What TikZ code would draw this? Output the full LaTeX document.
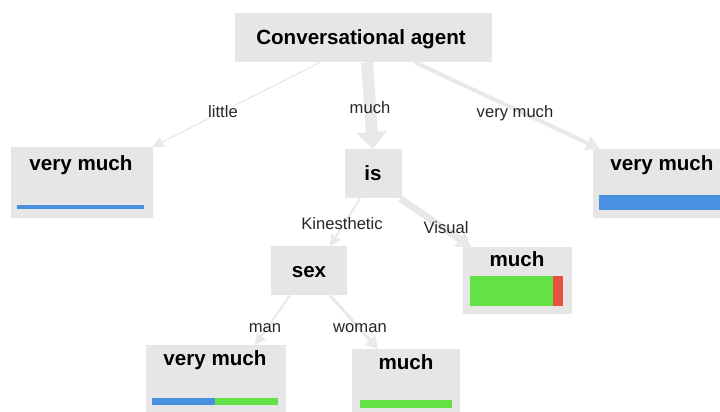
\documentclass[tikz,border=0pt]{standalone}
\usepackage{fontspec}
\setmainfont{Liberation Sans}
\usetikzlibrary{arrows.meta,calc}
\definecolor{boxgray}{RGB}{230,230,230}
\definecolor{edgegray}{RGB}{233,233,233}
\definecolor{barblue}{RGB}{74,144,226}
\definecolor{bargreen}{RGB}{98,226,68}
\definecolor{barred}{RGB}{232,80,64}
\tikzset{
  box/.style={fill=boxgray, draw=none, inner sep=0pt, anchor=north west},
  ttl/.style={font=\fontsize{20.6}{23}\selectfont\bfseries, text=black, inner sep=0pt, anchor=base},
  elbl/.style={font=\fontsize{16.6}{19}\selectfont, text=black!85, inner sep=0pt, anchor=base},
  edge/.style={draw=edgegray},
}
\begin{document}
\begin{tikzpicture}[x=1pt,y=-1pt]
\useasboundingbox (0,0) rectangle (720,412);
% boxes
\node[box, minimum width=257, minimum height=49] (root) at (235,13) {};
\node[box, minimum width=142, minimum height=71] (vm1) at (11,147) {};
\node[box, minimum width=57, minimum height=49] (is) at (345,149) {};
\node[box, minimum width=127, minimum height=69] (vm2) at (593,149) {};
\node[box, minimum width=109, minimum height=67] (mu1) at (463,247) {};
\node[box, minimum width=76, minimum height=49] (sex) at (271,246) {};
\node[box, minimum width=140, minimum height=67] (vm3) at (146,345) {};
\node[box, minimum width=108, minimum height=63] (mu2) at (352,349) {};
% titles
\node[ttl] (root-t) at (361,45) {Conversational agent};
\node[ttl] (vm1-t) at (81,170) {very much};
\node[ttl] (is-t) at (373,180) {is};
\node[ttl] (vm2-t) at (662,170) {very much};
\node[ttl] (mu1-t) at (517,266) {much};
\node[ttl] (sex-t) at (309,277) {sex};
\node[ttl] (vm3-t) at (215,365) {very much};
\node[ttl] (mu2-t) at (406,369) {much};
% bars
\fill[barblue] (17,205) rectangle (144,209);
\fill[barblue] (599,195) rectangle (720,210);
\fill[bargreen] (470,276) rectangle (553,306);
\fill[barred] (553,276) rectangle (563,306);
\fill[barblue] (152,398) rectangle (215,405);
\fill[bargreen] (215,398) rectangle (278,405);
\fill[bargreen] (360,400) rectangle (452,408);
% edges
\draw[edge, line width=1.2pt, -{Triangle[length=11pt,width=11pt]}]
  ($(root.south west)+(85,0)$) -- ($(vm1.north east)+(-1,0)$);
\draw[edge, line width=12pt, -{Triangle[length=17pt,width=30pt]}]
  ($(root.south west)+(132,0)$) -- ($(is.north west)+(28,0)$);
\draw[edge, line width=4pt, -{Triangle[length=14pt,width=14pt]}]
  ($(root.south west)+(180,0)$) -- ($(vm2.north west)+(7,0)$);
\draw[edge, line width=2pt, -{Triangle[length=11pt,width=11pt]}]
  ($(is.south west)+(15,0)$) -- ($(sex.north west)+(59,0)$);
\draw[edge, line width=7pt, -{Triangle[length=14pt,width=18pt]}]
  ($(is.south west)+(55,0)$) -- ($(mu1.north west)+(8,0)$);
\draw[edge, line width=2pt, -{Triangle[length=11pt,width=11pt]}]
  ($(sex.south west)+(19,0)$) -- ($(vm3.north west)+(109,0)$);
\draw[edge, line width=3pt, -{Triangle[length=12pt,width=13pt]}]
  ($(sex.south west)+(59,0)$) -- ($(mu2.north west)+(26,0)$);
% edge labels
\node[elbl] (l-little) at (223,117) {little};
\node[elbl] (l-much) at (370,113) {much};
\node[elbl] (l-vm) at (515,117) {very much};
\node[elbl] (l-kin) at (342,229) {Kinesthetic};
\node[elbl] (l-vis) at (446,233) {Visual};
\node[elbl] (l-man) at (265,332) {man};
\node[elbl] (l-wom) at (360,332) {woman};
\end{tikzpicture}
\end{document}
